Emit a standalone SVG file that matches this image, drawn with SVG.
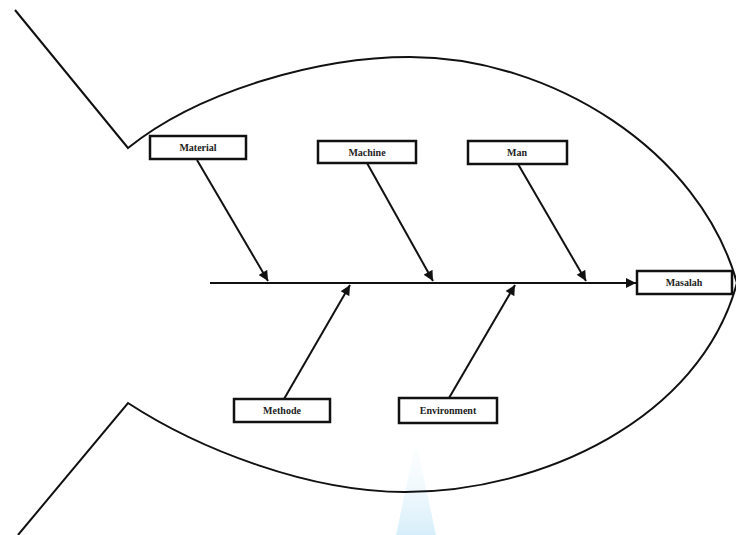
<svg xmlns="http://www.w3.org/2000/svg" width="736" height="535" viewBox="0 0 736 535">
<style>
.outline{fill:none;stroke:#111;stroke-width:2;stroke-linejoin:miter}
.box{fill:#fff;stroke:#111;stroke-width:2.5}
.lbl{font-family:"Liberation Serif","Times New Roman",serif;font-weight:bold;font-size:10px;fill:#222;text-anchor:middle}
.arr{stroke:#111;stroke-width:2;fill:none;marker-end:url(#ah)}
</style>
<defs>
<marker id="ah" viewBox="0 0 10 10" refX="10" refY="5" markerWidth="5.5" markerHeight="5" orient="auto" markerUnits="strokeWidth">
<path d="M0,0 L10,5 L0,10 z" fill="#111"/>
</marker>
<linearGradient id="wm" x1="0" y1="0" x2="0" y2="1">
<stop offset="0" stop-color="#eef8fd" stop-opacity="0.2"/>
<stop offset="1" stop-color="#cdeaf9" stop-opacity="0.8"/>
</linearGradient>
</defs>
<rect width="736" height="535" fill="#fff"/>
<polygon points="414,450 418,450 436,535 396,535" fill="url(#wm)"/>
<g id="fish-outline">
<path class="outline" d="M15,10 L128,148 C200,90 320,57 410,57 C550,57 700,150 737,283"/>
<path class="outline" d="M18,535 L128,403 C200,450 310,492 405,492 C540,492 700,420 737,283"/>
</g>
<g id="connectors">
<line class="arr" x1="210" y1="283" x2="636" y2="283"/>
<line class="arr" x1="197" y1="160" x2="268" y2="281"/>
<line class="arr" x1="367" y1="163" x2="433" y2="281"/>
<line class="arr" x1="518" y1="164" x2="586" y2="281"/>
<line class="arr" x1="284" y1="399" x2="350" y2="285"/>
<line class="arr" x1="449" y1="398" x2="515" y2="285"/>
</g>
<g id="material">
<rect class="box" x="150" y="136" width="96" height="23"/>
<text class="lbl" x="198" y="151">Material</text>
</g>
<g id="machine">
<rect class="box" x="318" y="141" width="98" height="22"/>
<text class="lbl" x="367" y="156">Machine</text>
</g>
<g id="man">
<rect class="box" x="468" y="141" width="99" height="23"/>
<text class="lbl" x="517" y="156">Man</text>
</g>
<g id="masalah">
<rect class="box" x="637" y="271" width="95" height="23"/>
<text class="lbl" x="684" y="286">Masalah</text>
</g>
<g id="methode">
<rect class="box" x="234" y="399" width="96" height="23"/>
<text class="lbl" x="282" y="414">Methode</text>
</g>
<g id="environment">
<rect class="box" x="399" y="398" width="98" height="25"/>
<text class="lbl" x="448" y="414">Environment</text>
</g>
</svg>
